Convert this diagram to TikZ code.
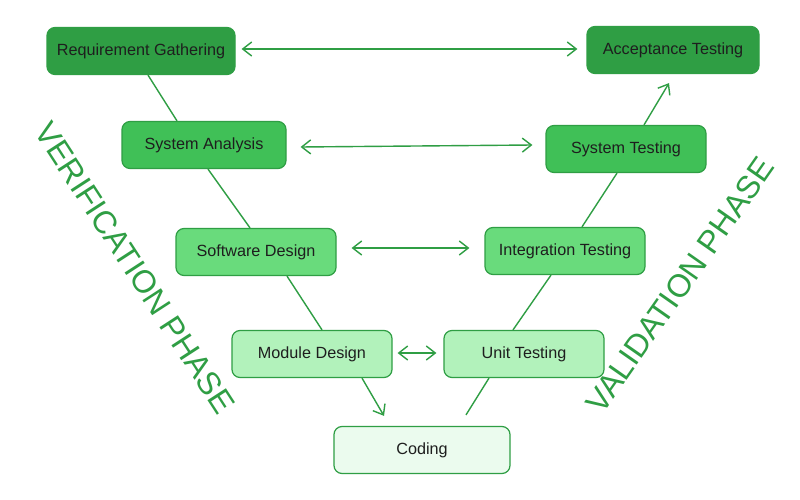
\documentclass[tikz,border=0pt]{standalone}
\usepackage{fontspec}
\setmainfont{Liberation Sans}
\usetikzlibrary{arrows.meta}
\definecolor{gD}{HTML}{2F9E44}
\definecolor{gM}{HTML}{40C057}
\definecolor{gL}{HTML}{69DB7C}
\definecolor{gP}{HTML}{B2F2BB}
\definecolor{gW}{HTML}{EBFBEE}
\definecolor{txt}{HTML}{1E1E1E}
\tikzset{
  box/.style={draw=gD, line width=1.2pt, rounded corners=8pt, minimum height=47pt,
    text=txt, font=\fontsize{16.2}{19}\selectfont, inner sep=0pt},
  link/.style={draw=gD, line width=1.4pt},
  tip/.style={-{Straight Barb[length=9pt,width=14pt,line width=1.4pt]}},
  dtip/.style={{Straight Barb[length=9pt,width=14pt,line width=1.4pt]}-{Straight Barb[length=9pt,width=14pt,line width=1.4pt]}},
  phase/.style={text=gD, font=\fontsize{32}{36}\selectfont}
}
\begin{document}
\begin{tikzpicture}[x=1pt,y=-1pt]
\useasboundingbox[fill=white] (0,0) rectangle (800,500);
\node[box, fill=gD, minimum width=188pt] (rg) at (141,51) {Requirement Gathering};
\node[box, fill=gD, minimum width=172pt] (at) at (673,50) {Acceptance Testing};
\node[box, fill=gM, minimum width=164pt] (sa) at (204,145) {System Analysis};
\node[box, fill=gM, minimum width=160pt] (st) at (626,149) {System Testing};
\node[box, fill=gL, minimum width=160pt] (sd) at (256,252) {Software Design};
\node[box, fill=gL, minimum width=160pt] (it) at (565,251) {Integration Testing};
\node[box, fill=gP, minimum width=160pt] (md) at (312,354) {Module Design};
\node[box, fill=gP, minimum width=160pt] (ut) at (524,354) {Unit Testing};
\node[box, fill=gW, minimum width=176pt] (cd) at (422,450) {Coding};

% V-shape connectors
\draw[link] (rg.south -| 148,0) -- (sa.north -| 177,0);
\draw[link] (sa.south -| 208,0) -- (sd.north -| 250,0);
\draw[link] (sd.south -| 287,0) -- (md.north -| 322,0);
\draw[link, tip] (md.south -| 362,0) -- ([yshift=10pt]cd.north -| 384,0) coordinate (cin);
\draw[link] ([yshift=11pt]cd.north -| 466,0) coordinate (cout) -- (ut.south -| 489,0);
\draw[link] (ut.north -| 513,0) -- (it.south -| 551,0);
\draw[link] (it.north -| 582,0) -- (st.south -| 617,0);
\draw[link, tip] (st.north -| 644,0) -- ([yshift=-9pt]at.south -| 669,0) coordinate (ain);

% horizontal double arrows
\draw[link, dtip] ([xshift=6pt,yshift=2pt]rg.east) -- ([xshift=-9pt,yshift=1pt]at.west);
\draw[link, dtip] ([xshift=14pt,yshift=-2pt]sa.east) -- ([xshift=-13pt,yshift=4pt]st.west);
\draw[link, dtip] ([xshift=15pt,yshift=4pt]sd.east) -- ([xshift=-15pt,yshift=3pt]it.west);
\draw[link, dtip] ([xshift=5pt,yshift=1pt]md.east) -- ([xshift=-7pt,yshift=1pt]ut.west);

% phase labels
\node[phase, rotate=-57] (vp) at (135,268) {VERIFICATION PHASE};
\node[phase, rotate=55] (vap) at (680,285) {VALIDATION PHASE};
\end{tikzpicture}
\end{document}
